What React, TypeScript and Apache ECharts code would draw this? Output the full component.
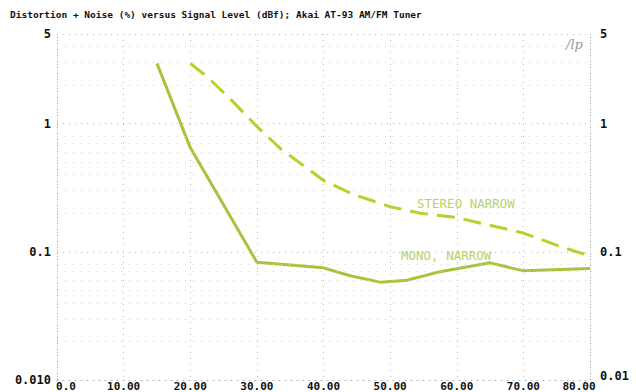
import React, { useEffect, useRef } from "react";
import * as echarts from "echarts";

const titleText = "Distortion + Noise (%) versus Signal Level (dBf); Akai AT-93 AM/FM Tuner";

// Signal level (dBf) and THD+N (%)
const monoX = [15, 20, 30, 40, 44, 48.5, 52.5, 57.5, 65, 70, 80];
const monoNarrow = [2.95, 0.65, 0.083, 0.075, 0.065, 0.058, 0.06, 0.07, 0.082, 0.071, 0.074];

const stereoX = [20, 22.5, 26, 30, 33.5, 37, 40, 44.5, 50, 54.5, 60, 70, 76, 80];
const stereoNarrow = [2.95, 2.33, 1.56, 0.95, 0.64, 0.47, 0.36, 0.28, 0.225, 0.2, 0.185, 0.14, 0.108, 0.093];

const seriesNames = ["MONO, NARROW", "STEREO NARROW"];

// minor log grid values
const minorGrid = [
  4, 3, 2, 0.8, 0.7, 0.6, 0.5, 0.4, 0.3, 0.2,
  0.08, 0.07, 0.06, 0.05, 0.04, 0.03, 0.02,
];

const leftLabels: Record<string, string> = { "0.01": "0.010", "0.1": "0.1", "1": "1", "5": "5" };
const rightLabels: Record<string, string> = { "0.01": "{b|0.01}", "0.1": "0.1", "1": "1", "5": "5" };

const mono = "'DejaVu Sans Mono', 'Liberation Mono', monospace";

function fmtY(map: Record<string, string>) {
  return (v: number) => {
    const key = String(Number(v.toPrecision(3)));
    return map[key] ?? "";
  };
}

function fmtX(v: number) {
  if (v === 0) return "{a|0.0}";
  if (v === 80) return "{c|80.00}";
  return v.toFixed(2);
}

export default function App() {
  const ref = useRef<HTMLDivElement>(null);
  useEffect(() => {
    if (!ref.current) return;
    const chart = echarts.init(ref.current, undefined, { renderer: "svg" });
    const dotted = [1, 5];
    const labelFont = { fontFamily: mono, fontWeight: "bold" as const, color: "#111" };
    const yBase = {
      type: "log" as const,
      logBase: 10,
      min: 0.01,
      max: 5,
      axisLine: { show: true, lineStyle: { color: "#b0b0b0", type: dotted, width: 1 } },
      axisTick: { show: false },
      splitLine: { show: true, lineStyle: { color: "#b8b8b8", type: dotted, width: 1 } },
    };
    chart.setOption({
      animation: false,
      backgroundColor: "#ffffff",
      title: {
        text: titleText,
        left: 5,
        top: 4,
        textStyle: { fontFamily: mono, fontWeight: "bold", fontSize: 9.5, color: "#111" },
      },
      grid: { left: 57, right: 46, top: 34, bottom: 8 },
      xAxis: {
        type: "value",
        min: 0,
        max: 80,
        interval: 10,
        axisLine: { show: true, lineStyle: { color: "#b0b0b0", type: dotted, width: 1 } },
        axisTick: { show: false },
        splitLine: { show: true, lineStyle: { color: "#b8b8b8", type: dotted, width: 1 } },
        axisLabel: {
          margin: 1,
          fontSize: 11,
          ...labelFont,
          formatter: fmtX,
          rich: {
            a: { padding: [0, 0, 0, 18], fontSize: 11, ...labelFont },
            c: { padding: [0, 22, 0, 0], fontSize: 11, ...labelFont },
          },
        },
      },
      yAxis: [
        {
          ...yBase,
          position: "left",
          axisLabel: { margin: 6, fontSize: 12, ...labelFont, formatter: fmtY(leftLabels) },
        },
        {
          ...yBase,
          position: "right",
          splitLine: { show: false },
          axisLabel: {
            margin: 10,
            fontSize: 12,
            ...labelFont,
            formatter: fmtY(rightLabels),
            rich: { b: { padding: [0, 0, 8, 0], fontSize: 12, ...labelFont } },
          },
        },
      ],
      series: [
        {
          name: seriesNames[0],
          type: "line",
          data: monoX.map((x, i) => [x, monoNarrow[i]]),
          showSymbol: false,
          smooth: false,
          lineStyle: { color: "#a6c43e", width: 3 },
          markLine: {
            silent: true,
            symbol: "none",
            label: { show: false },
            lineStyle: { color: "#cfcfcf", type: [1, 7], width: 1 },
            data: minorGrid.map((v) => ({ yAxis: v })),
          },
          z: 3,
        },
        {
          name: seriesNames[1],
          type: "line",
          data: stereoX.map((x, i) => [x, stereoNarrow[i]]),
          showSymbol: false,
          smooth: false,
          lineStyle: { color: "#b4d22a", width: 3, type: [18, 9] },
          z: 3,
        },
      ],
      graphic: [
        {
          type: "text",
          left: 417,
          top: 197,
          style: { text: "STEREO NARROW", fill: "#b9d45e", font: `12.5px ${mono}` },
        },
        {
          type: "text",
          left: 401,
          top: 249,
          style: { text: "MONO, NARROW", fill: "#b9d45e", font: `12.5px ${mono}` },
        },
        {
          type: "text",
          left: 566,
          top: 38,
          style: { text: "/lp", fill: "#9a9a9a", font: `italic 13px 'DejaVu Serif', serif` },
        },
      ],
    });
    return () => chart.dispose();
  }, []);
  return (
    <div
      ref={ref}
      style={{ position: "absolute", left: 0, top: 0, width: 636, height: 392, background: "#fff" }}
    />
  );
}
